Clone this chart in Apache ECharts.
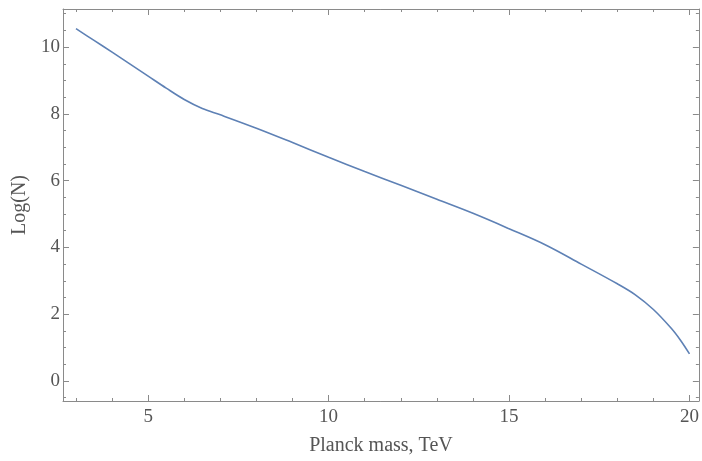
<!DOCTYPE html>
<html>
<head>
<meta charset="utf-8">
<script src="https://cdn.jsdelivr.net/npm/echarts@6/dist/echarts.min.js"></script>
<style>html,body{margin:0;padding:0;background:#fff}#c{width:702px;height:461px}</style>
</head>
<body>
<div id="c"></div>
<script>
var massTeV = [3, 3.5, 4, 4.5, 5, 5.5, 6, 6.5, 7, 8, 9, 10, 11, 12, 13, 14, 15, 16, 17, 18, 18.5, 19, 19.5, 19.75, 20];
var logN = [10.55, 10.20, 9.85, 9.49, 9.13, 8.77, 8.43, 8.16, 7.97, 7.57, 7.14, 6.70, 6.27, 5.86, 5.44, 5.02, 4.56, 4.08, 3.50, 2.91, 2.58, 2.14, 1.57, 1.22, 0.81];
var xMajorTicks = [5, 10, 15, 20];
var xMinorTicks = [3, 4, 6, 7, 8, 9, 11, 12, 13, 14, 16, 17, 18, 19, 20];
var yMajorTicks = [0, 2, 4, 6, 8, 10];
var yMinorTicks = [-0.5, 0.5, 1, 1.5, 2.5, 3, 3.5, 4.5, 5, 5.5, 6.5, 7, 7.5, 8.5, 9, 9.5, 10.5, 11];

var X_MIN = 2.64, X_MAX = 20.26, Y_MIN = -0.6, Y_MAX = 11.14;
var frameColor = '#8a8a8a', textColor = '#555555', font = 'Liberation Serif';

function xAx(pos, ticks, len, labels, showLine) {
  return {
    type: 'value', position: pos, min: X_MIN, max: X_MAX,
    axisLine: {show: showLine, onZero: false, lineStyle: {color: frameColor, width: 1}},
    axisTick: {show: true, inside: true, length: len, customValues: ticks, lineStyle: {color: frameColor}},
    axisLabel: labels ? {show: true, customValues: ticks, color: textColor, fontFamily: font, fontSize: 19, margin: 7} : {show: false},
    splitLine: {show: false}
  };
}
function yAx(pos, ticks, len, labels, showLine) {
  return {
    type: 'value', position: pos, min: Y_MIN, max: Y_MAX,
    axisLine: {show: showLine, onZero: false, lineStyle: {color: frameColor, width: 1}},
    axisTick: {show: true, inside: true, length: len, customValues: ticks, lineStyle: {color: frameColor}},
    axisLabel: labels ? {show: true, customValues: ticks, color: textColor, fontFamily: font, fontSize: 19, margin: 3} : {show: false},
    splitLine: {show: false}
  };
}

var xAxes = [
  xAx('bottom', xMajorTicks, 6, true, true),
  xAx('bottom', xMinorTicks, 3, false, false),
  xAx('top', xMajorTicks, 6, false, true),
  xAx('top', xMinorTicks, 3, false, false)
];
xAxes[0].name = 'Planck mass, TeV';
xAxes[0].nameLocation = 'middle';
xAxes[0].nameGap = 35;
xAxes[0].nameTextStyle = {color: textColor, fontFamily: font, fontSize: 20};

var yAxes = [
  yAx('left', yMajorTicks, 6, true, true),
  yAx('left', yMinorTicks, 3, false, false),
  yAx('right', yMajorTicks, 6, false, true),
  yAx('right', yMinorTicks, 3, false, false)
];
yAxes[0].name = 'Log(N)';
yAxes[0].nameLocation = 'middle';
yAxes[0].nameGap = 31;
yAxes[0].nameTextStyle = {color: textColor, fontFamily: font, fontSize: 20};

var data = massTeV.map(function (m, i) { return [m, logN[i]]; });

var chart = echarts.init(document.getElementById('c'), null, {renderer: 'canvas'});
chart.setOption({
  animation: false,
  backgroundColor: '#ffffff',
  grid: {left: 63, right: 2, top: 9, bottom: 57, containLabel: false},
  xAxis: xAxes,
  yAxis: yAxes,
  series: [{
    type: 'line', data: data, xAxisIndex: 0, yAxisIndex: 0,
    smooth: 0.35, showSymbol: false,
    lineStyle: {color: '#5E81B5', width: 1.6}
  }]
});
</script>
</body>
</html>
